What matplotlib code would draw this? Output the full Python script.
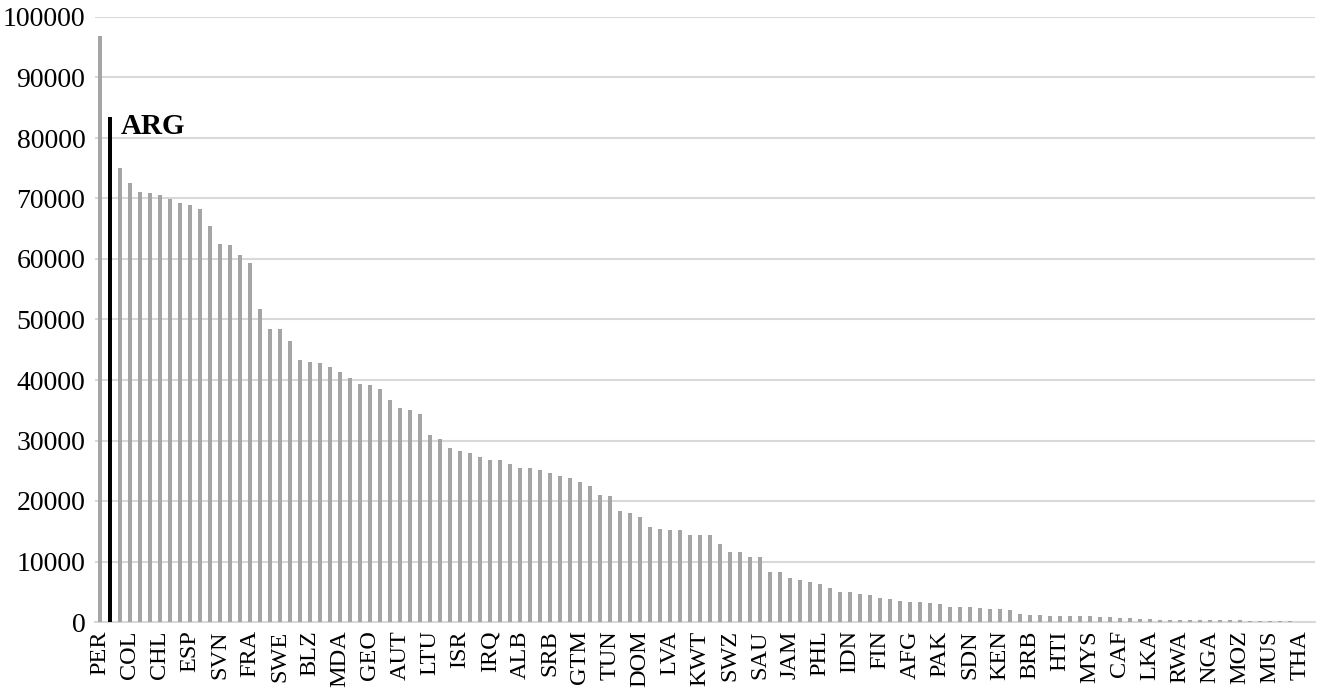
import matplotlib
matplotlib.use('Agg')
import matplotlib.pyplot as plt
import numpy as np

# values per country, sorted descending (only every 3rd country is labelled)
values = [
    96900, 83500, 75100, 72500, 71100, 70900, 70500, 69900, 69300, 68900,
    68300, 65500, 62400, 62300, 60700, 59300, 51700, 48500, 48500, 46400,
    43300, 42900, 42800, 42100, 41400, 40300, 39300, 39200, 38500, 36700,
    35300, 35000, 34400, 30900, 30300, 28700, 28200, 28000, 27200, 26700,
    26700, 26100, 25400, 25400, 25100, 24600, 24200, 23800, 23100, 22500,
    21000, 20800, 18400, 18000, 17400, 15700, 15400, 15200, 15200, 14300,
    14300, 14300, 12900, 11600, 11500, 10700, 10700, 8200, 8200, 7200,
    6900, 6600, 6300, 5600, 4900, 4900, 4700, 4500, 4000, 3750,
    3400, 3300, 3250, 3100, 2900, 2500, 2500, 2400, 2350, 2200,
    2150, 2000, 1400, 1150, 1100, 1050, 1000, 1000, 950, 950,
    900, 850, 700, 600, 500, 450, 400, 400, 400, 350,
    350, 400, 300, 250, 250, 200, 150, 150, 150, 100,
    50, 30,
]
tick_labels = ['PER', 'COL', 'CHL', 'ESP', 'SVN', 'FRA', 'SWE', 'BLZ', 'MDA', 'GEO',
               'AUT', 'LTU', 'ISR', 'IRQ', 'ALB', 'SRB', 'GTM', 'TUN', 'DOM', 'LVA',
               'KWT', 'SWZ', 'SAU', 'JAM', 'PHL', 'IDN', 'FIN', 'AFG', 'PAK', 'SDN',
               'KEN', 'BRB', 'HTI', 'MYS', 'CAF', 'LKA', 'RWA', 'NGA', 'MOZ', 'MUS', 'THA']
highlight = 'ARG'
highlight_idx = 1

plt.rcParams['font.family'] = ['Liberation Serif', 'DejaVu Serif']

fig = plt.figure(figsize=(13.25, 6.92), dpi=100)
ax = fig.add_axes([95 / 1325, 70 / 692, 1220 / 1325, 605 / 692])

x = np.arange(len(values))
colors = ['#a5a5a5'] * len(values)
colors[highlight_idx] = 'black'
ax.bar(x, values, width=0.4, color=colors, zorder=3)

ax.text(highlight_idx + 1.05, values[highlight_idx] + 600, highlight,
        fontsize=21, fontweight='bold', va='top', ha='left')

ax.set_xlim(-0.5, len(values) - 0.5)
ax.set_ylim(0, 100000)
ax.set_yticks(np.arange(0, 100001, 10000))
ax.set_xticks(np.arange(0, len(values), 3))
ax.set_xticklabels(tick_labels, rotation=90)

ax.yaxis.grid(True, color='#d9d9d9', linewidth=1.5, zorder=0)
ax.set_axisbelow(True)
for s in ['top', 'right', 'left']:
    ax.spines[s].set_visible(False)
ax.spines['bottom'].set_color('#d9d9d9')
ax.spines['bottom'].set_linewidth(1.5)
ax.tick_params(axis='both', length=0)
ax.tick_params(axis='y', pad=7, labelsize=20)
ax.tick_params(axis='x', pad=6, labelsize=17.5)

plt.savefig('out.png', dpi=100)
plt.close()
